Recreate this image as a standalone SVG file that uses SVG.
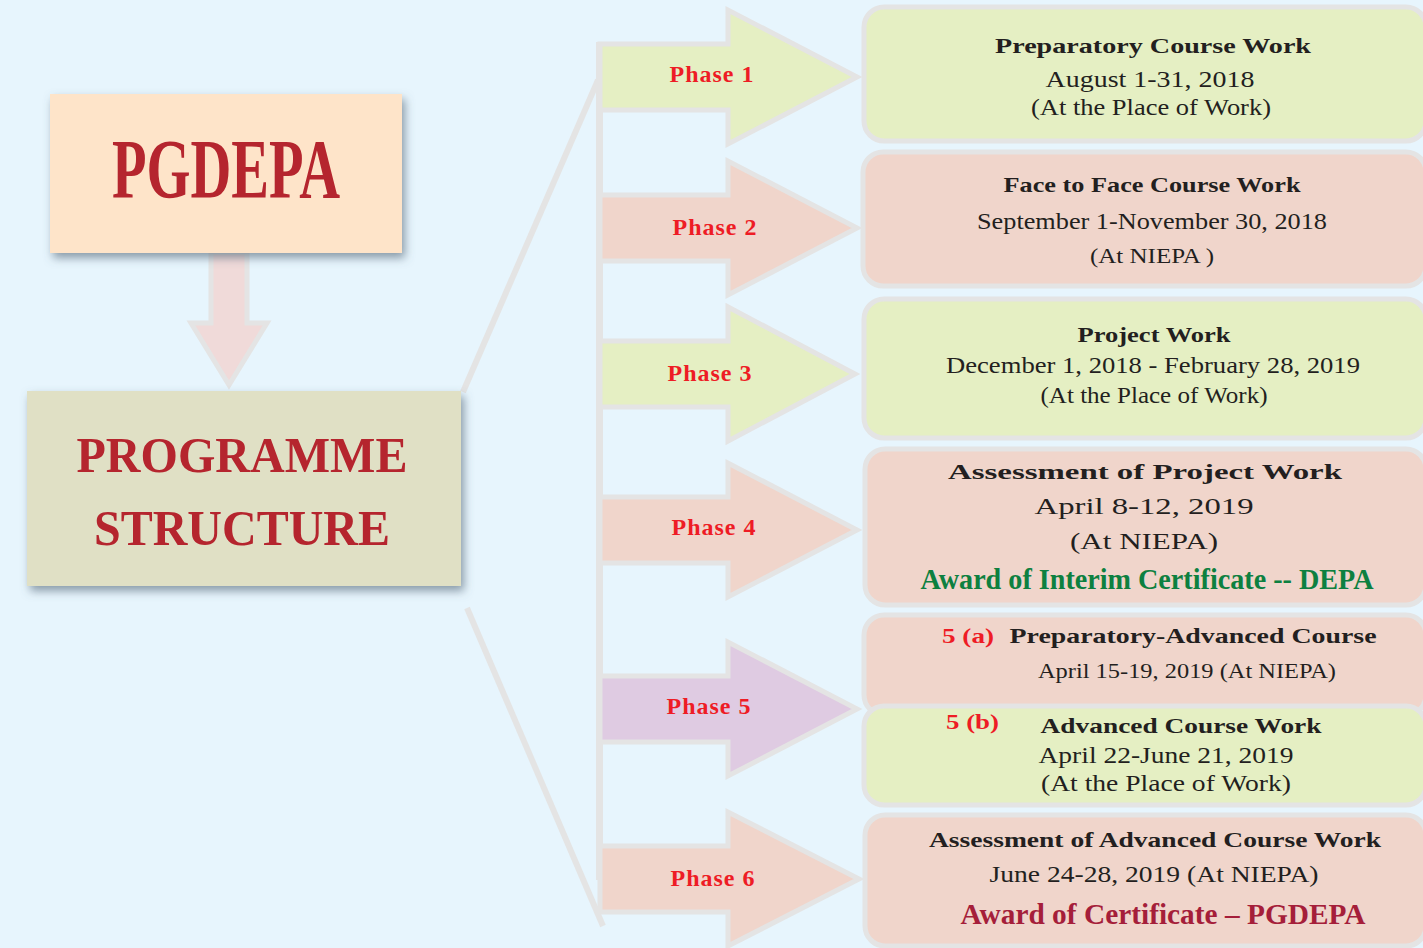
<svg xmlns="http://www.w3.org/2000/svg" width="1423" height="948" viewBox="0 0 1423 948">
<defs>
<filter id="sh" x="-10%" y="-10%" width="125%" height="130%">
<feDropShadow dx="3" dy="5" stdDeviation="5" flood-color="#566b7c" flood-opacity="0.65"/>
</filter>
</defs>
<style>
.bg{fill:#E7F5FD}
.conn{stroke:#E4E4E4;stroke-width:6;fill:none}
.arr{stroke:#E4E4E4;stroke-width:5;stroke-linejoin:miter}
.green{fill:#E5EFC3}
.pink{fill:#F0D5CB}
.purple{fill:#DFCBE2}
.box{stroke:#E4E4E4;stroke-width:5}
.t{font-family:"Liberation Serif","Times New Roman",serif;fill:#231F20;text-anchor:middle}
.b{font-weight:bold}
.ph{font-family:"Liberation Serif","Times New Roman",serif;font-weight:bold;font-size:24px;fill:#EE1C25;text-anchor:middle;letter-spacing:1px}
.title{font-family:"Liberation Serif","Times New Roman",serif;font-weight:bold;fill:#B5252E;text-anchor:middle}
.red5{font-family:"Liberation Serif","Times New Roman",serif;font-weight:bold;font-size:21px;fill:#EE1C25}
</style>
<rect class="bg" x="0" y="0" width="1423" height="948"/>

<g id="connectors">
<line class="conn" x1="463" y1="392" x2="598" y2="80"/>
<line class="conn" x1="467" y1="608" x2="603" y2="926"/>
<line x1="599.5" y1="42" x2="599.5" y2="880" stroke="#E4E4E4" stroke-width="7"/>
<path d="M211,252 H247 V323 H267 L229,385 L191,323 H211 Z" fill="#F0DAD9" stroke="#E4E4E4" stroke-width="5"/>
</g>

<g id="pgdepa">
<rect x="50" y="94" width="352" height="159" fill="#FEE4C9" filter="url(#sh)"/>
<text class="title" x="226" y="198" font-size="84" textLength="228" lengthAdjust="spacingAndGlyphs">PGDEPA</text>
</g>

<g id="programme-structure">
<rect x="27" y="391" width="434" height="195" fill="#E0E0C5" filter="url(#sh)"/>
<text class="title" x="242" y="472" font-size="50" textLength="331" lengthAdjust="spacingAndGlyphs">PROGRAMME</text>
<text class="title" x="242" y="545" font-size="50" textLength="296" lengthAdjust="spacingAndGlyphs">STRUCTURE</text>
</g>

<g id="phase1">
<path class="arr green" d="M600,44 H728 V10 L857,77 L728,144 V110 H600 Z"/>
<text class="ph" x="712" y="82">Phase 1</text>
</g>
<g id="phase2">
<path class="arr pink" d="M600,195 H728 V161 L857,228 L728,295 V261 H600 Z"/>
<text class="ph" x="715" y="235">Phase 2</text>
</g>
<g id="phase3">
<path class="arr green" d="M600,341 H728 V307 L855,374 L728,441 V407 H600 Z"/>
<text class="ph" x="710" y="381">Phase 3</text>
</g>
<g id="phase4">
<path class="arr pink" d="M600,497 H728 V463 L857,530 L728,597 V563 H600 Z"/>
<text class="ph" x="714" y="535">Phase 4</text>
</g>
<g id="phase5">
<path class="arr purple" d="M600,676 H728 V642 L857,709 L728,776 V742 H600 Z"/>
<text class="ph" x="709" y="714">Phase 5</text>
</g>
<g id="phase6">
<path class="arr pink" d="M600,846 H728 V812 L859,879 L728,946 V912 H600 Z"/>
<text class="ph" x="713" y="886">Phase 6</text>
</g>

<g id="box1">
<rect class="box green" x="864" y="7" width="562" height="134" rx="20"/>
<text class="t b" x="1153" y="53" font-size="22" textLength="316" lengthAdjust="spacingAndGlyphs">Preparatory Course Work</text>
<text class="t" x="1150" y="87" font-size="23" textLength="209" lengthAdjust="spacingAndGlyphs">August 1-31, 2018</text>
<text class="t" x="1151" y="115" font-size="23" textLength="240" lengthAdjust="spacingAndGlyphs">(At the Place of Work)</text>
</g>

<g id="box2">
<rect class="box pink" x="863" y="152" width="563" height="134" rx="20"/>
<text class="t b" x="1152" y="192" font-size="22" textLength="297" lengthAdjust="spacingAndGlyphs">Face to Face Course Work</text>
<text class="t" x="1152" y="229" font-size="24" textLength="350" lengthAdjust="spacingAndGlyphs">September 1-November 30, 2018</text>
<text class="t" x="1152" y="263" font-size="22" textLength="124" lengthAdjust="spacingAndGlyphs">(At NIEPA )</text>
</g>

<g id="box3">
<rect class="box green" x="864" y="299" width="562" height="139" rx="20"/>
<text class="t b" x="1154" y="342" font-size="22" textLength="153" lengthAdjust="spacingAndGlyphs">Project Work</text>
<text class="t" x="1153" y="373" font-size="24" textLength="414" lengthAdjust="spacingAndGlyphs">December 1, 2018 - February 28, 2019</text>
<text class="t" x="1154" y="403" font-size="23" textLength="227" lengthAdjust="spacingAndGlyphs">(At the Place of Work)</text>
</g>

<g id="box4">
<rect class="box pink" x="865" y="449" width="561" height="156" rx="20"/>
<text class="t b" x="1145" y="479" font-size="22" textLength="394" lengthAdjust="spacingAndGlyphs">Assessment of Project Work</text>
<text class="t" x="1144" y="514" font-size="23" textLength="219" lengthAdjust="spacingAndGlyphs">April 8-12, 2019</text>
<text class="t" x="1144" y="549" font-size="23" textLength="148" lengthAdjust="spacingAndGlyphs">(At NIEPA)</text>
<text x="1147" y="589" font-family="Liberation Serif, Times New Roman, serif" font-weight="bold" font-size="29" fill="#0D8040" text-anchor="middle" textLength="453" lengthAdjust="spacingAndGlyphs">Award of Interim Certificate -- DEPA</text>
</g>

<g id="box5a">
<rect class="box pink" x="864" y="615" width="562" height="100" rx="20"/>
<text class="red5" x="942" y="643" textLength="52" lengthAdjust="spacingAndGlyphs">5 (a)</text>
<text class="t b" x="1193" y="643" font-size="21" textLength="367" lengthAdjust="spacingAndGlyphs">Preparatory-Advanced Course</text>
<text class="t" x="1187" y="678" font-size="21" textLength="298" lengthAdjust="spacingAndGlyphs">April 15-19, 2019 (At NIEPA)</text>
</g>

<g id="box5b">
<rect class="box green" x="864" y="706" width="562" height="99" rx="20"/>
<text class="red5" x="946" y="729" textLength="53" lengthAdjust="spacingAndGlyphs">5 (b)</text>
<text class="t b" x="1181" y="733" font-size="21" textLength="281" lengthAdjust="spacingAndGlyphs">Advanced Course Work</text>
<text class="t" x="1166" y="763" font-size="23" textLength="255" lengthAdjust="spacingAndGlyphs">April 22-June 21, 2019</text>
<text class="t" x="1166" y="791" font-size="23" textLength="250" lengthAdjust="spacingAndGlyphs">(At the Place of Work)</text>
</g>

<g id="box6">
<rect class="box pink" x="865" y="815" width="561" height="131" rx="20"/>
<text class="t b" x="1155" y="847" font-size="21" textLength="452" lengthAdjust="spacingAndGlyphs">Assessment of Advanced Course Work</text>
<text class="t" x="1154" y="882" font-size="23" textLength="329" lengthAdjust="spacingAndGlyphs">June 24-28, 2019 (At NIEPA)</text>
<text x="1163" y="924" font-family="Liberation Serif, Times New Roman, serif" font-weight="bold" font-size="30" fill="#A51E3A" text-anchor="middle" textLength="405" lengthAdjust="spacingAndGlyphs">Award of Certificate – PGDEPA</text>
</g>
</svg>
